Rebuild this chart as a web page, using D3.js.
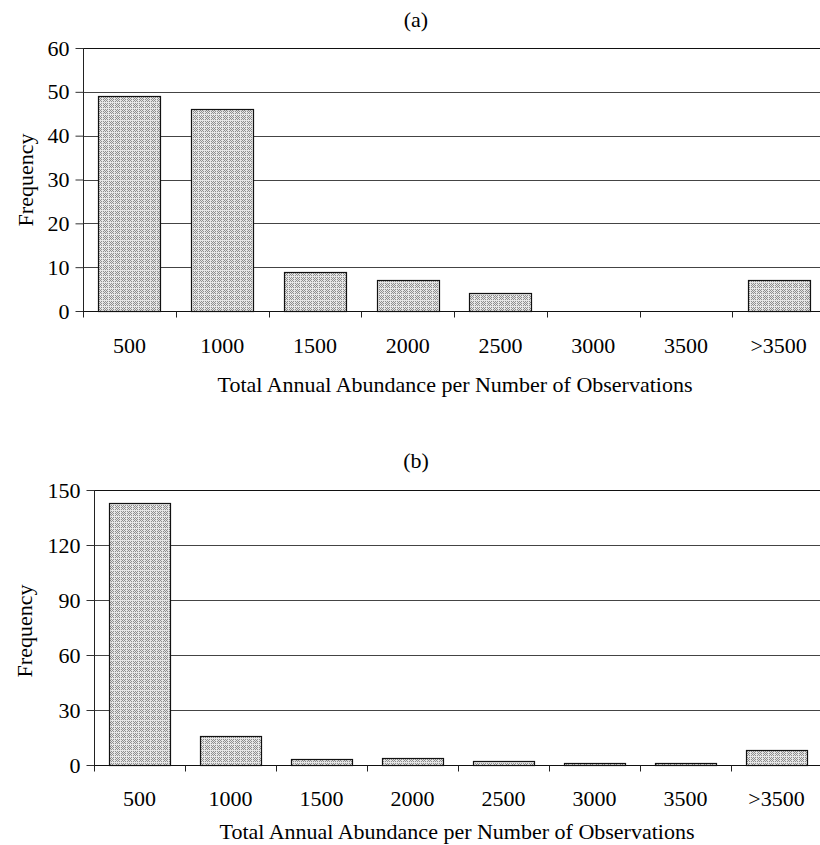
<!DOCTYPE html>
<html><head><meta charset="utf-8">
<script src="https://cdn.jsdelivr.net/npm/d3@7"></script>
<style>body{margin:0;background:#fff}svg{display:block}</style>
</head><body>
<svg id="c" width="820" height="845" font-family="'Liberation Serif', 'Times New Roman', serif"></svg>
<script>
const categories = ["500","1000","1500","2000","2500","3000","3500",">3500"];
const valuesA = [49, 46, 9, 7, 4, 0, 0, 7];
const valuesB = [143, 16, 3, 4, 2, 1, 1, 8];
const ticksA = [0,10,20,30,40,50,60];
const ticksB = [0,30,60,90,120,150];
const xTitle = "Total Annual Abundance per Number of Observations";
const yTitle = "Frequency";
const FONT = "'Liberation Serif', 'Times New Roman', serif";

const svg = d3.select("#c");
const defs = svg.append("defs");
const P = 6;
const pat = defs.append("pattern").attr("id","stip").attr("patternUnits","userSpaceOnUse")
  .attr("width",P).attr("height",P);
pat.append("rect").attr("width",P).attr("height",P).attr("fill","#e6e6e6");
for (let i=1;i<P;i++) for (let j=1;j<P;j++) if ((i+j)%2===0)
  pat.append("rect").attr("x",i).attr("y",j).attr("width",1).attr("height",1).attr("fill","#8e8e8e");

function panel(cfg){
  const g = svg.append("g");
  const x = d3.scaleBand().domain(categories).range([cfg.left, cfg.right]).paddingInner(0.33).paddingOuter(0.165);
  const xb = d3.scaleBand().domain(categories).range([cfg.left, cfg.right]);
  const y = d3.scaleLinear().domain([0, cfg.max]).range([cfg.bottom, cfg.top]);
  g.selectAll("line.grid").data(cfg.ticks.filter(t=>t>0)).join("line")
    .attr("x1",cfg.left).attr("x2",cfg.right+10)
    .attr("y1",d=>Math.round(y(d))+0.5).attr("y2",d=>Math.round(y(d))+0.5)
    .attr("stroke",d=>d===cfg.max?"#111":"#444").attr("stroke-width",1);
  g.selectAll("rect.bar").data(cfg.values).join("rect")
    .attr("x",(d,i)=>Math.round(x(categories[i]))+0.5)
    .attr("width",Math.round(x.bandwidth()))
    .attr("y",d=>Math.round(y(d))+0.5)
    .attr("height",d=>Math.max(0,Math.round(cfg.bottom-y(d))))
    .attr("fill","url(#stip)").attr("stroke","#111").attr("stroke-width",1.2);
  const ya = d3.axisLeft(y).tickValues(cfg.ticks).tickSize(8).tickPadding(6).tickFormat(d3.format("d"));
  const yg = g.append("g").attr("transform",`translate(${cfg.left+0.5},0)`).call(ya)
    .attr("font-family",FONT).attr("font-size",cfg.fs);
  yg.select(".domain").attr("stroke","#222").attr("d",`M0,${cfg.top}V${cfg.bottom}`);
  yg.selectAll(".tick line").attr("stroke","#333");
  yg.selectAll("text").attr("fill","#000");
  const xg = g.append("g").attr("transform",`translate(0,${cfg.bottom+0.5})`);
  xg.append("line").attr("x1",cfg.left).attr("x2",cfg.right+10).attr("stroke","#111").attr("stroke-width",1.2);
  xg.selectAll("line.t").data(categories).join("line").attr("class","t")
    .attr("x1",d=>Math.round(xb(d))+0.5).attr("x2",d=>Math.round(xb(d))+0.5)
    .attr("y1",0).attr("y2",6).attr("stroke","#222");
  xg.selectAll("text").data(categories).join("text")
    .attr("x",d=>xb(d)+xb.bandwidth()/2).attr("y",cfg.tickLabelY-cfg.bottom)
    .attr("text-anchor","middle").attr("font-family",FONT).attr("font-size",cfg.fs).text(d=>d);
  g.append("text").attr("x",cfg.titleX).attr("y",cfg.xTitleY).attr("text-anchor","middle")
    .attr("font-family",FONT).attr("font-size",cfg.fs).text(xTitle);
  g.append("text").attr("transform",`translate(${cfg.yTitleX},${cfg.yTitleY}) rotate(-90)`)
    .attr("text-anchor","middle").attr("font-family",FONT).attr("font-size",cfg.fs).text(yTitle);
  g.append("text").attr("x",416).attr("y",cfg.headY).attr("text-anchor","middle")
    .attr("font-family",FONT).attr("font-size",cfg.fs).text(cfg.head);
}

panel({values:valuesA, ticks:ticksA, max:60, left:83, right:825, top:48, bottom:311, fs:22,
  tickLabelY:352, xTitleY:392, titleX:455, yTitleX:33, yTitleY:180, headY:27, head:"(a)"});
panel({values:valuesB, ticks:ticksB, max:150, left:94, right:822, top:490, bottom:765, fs:22,
  tickLabelY:805, xTitleY:839, titleX:457, yTitleX:32, yTitleY:631, headY:468, head:"(b)"});
</script>
</body></html>
